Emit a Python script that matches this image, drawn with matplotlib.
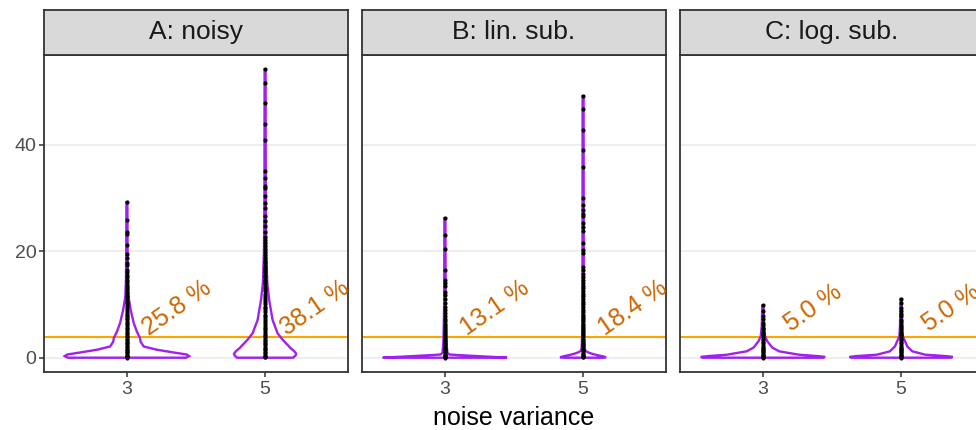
import numpy as np
import matplotlib
matplotlib.use("Agg")
import matplotlib.pyplot as plt

plt.rcParams['font.family'] = ['Liberation Sans', 'DejaVu Sans']

panels = ["A: noisy", "B: lin. sub.", "C: log. sub."]
variances = ["3", "5"]
threshold = 3.84
pct_labels = [["25.8 %", "38.1 %"], ["13.1 %", "18.4 %"], ["5.0 %", "5.0 %"]]

# test statistic values per panel / noise variance
a3_pts = [29.2, 25.9, 23.5, 23.3, 21.2, 19.5, 18.8, 17.8, 17.4, 16.5, 16.1, 15.6, 15.1, 14.6,
          14.2, 13.7, 13.3, 12.9, 12.4, 12.0, 11.6, 11.3, 10.9, 10.5, 10.2, 9.8, 9.5, 9.1, 8.8,
          8.4, 8.1, 7.9, 7.5, 7.2, 6.9, 6.5, 6.3, 5.9, 5.6, 5.4, 5.0, 4.7, 4.5, 4.1, 3.8, 3.6,
          3.3, 3.0, 2.8, 2.5, 2.2, 2.0, 1.7, 1.5, 1.2, 1.0, 0.8, 0.6, 0.4, 0.25, 0.1, 0.02]
a5_pts = [54.1, 51.5, 47.8, 43.9, 40.8, 35.0, 33.7, 32.3, 31.9, 30.3, 29.0, 28.1, 26.5, 25.6,
          24.7, 23.5, 22.6, 22.1, 21.5, 21.0, 20.4, 19.9, 19.3, 18.8, 18.2, 17.8, 17.3, 16.9,
          16.4, 16.0, 15.5, 15.1, 14.6, 14.2, 13.8, 13.3, 12.9, 12.5, 12.0, 11.6, 11.2, 10.8,
          10.4, 10.0, 9.6, 9.3, 8.9, 8.5, 8.1, 7.8, 7.4, 7.0, 6.7, 6.3, 6.0, 5.6, 5.3, 5.0, 4.6,
          4.3, 4.0, 3.7, 3.4, 3.1, 2.8, 2.5, 2.2, 1.9, 1.6, 1.4, 1.1, 0.9, 0.6, 0.4, 0.2, 0.05]
b3_pts = [26.2, 23.0, 20.4, 16.4, 14.6, 14.0, 13.4, 12.4, 11.8, 11.0, 10.3, 9.6, 9.0, 8.4, 7.8,
          7.3, 6.8, 6.4, 6.0, 5.6, 5.2, 4.8, 4.4, 4.0, 3.7, 3.4, 3.1, 2.8, 2.5, 2.2, 1.9, 1.7,
          1.4, 1.2, 1.0, 0.8, 0.6, 0.45, 0.3, 0.2, 0.1, 0.03]
b5_pts = [49.1, 46.6, 42.7, 38.9, 35.8, 30.0, 28.7, 27.8, 27.0, 26.5, 25.3, 24.6, 23.7, 21.5,
          20.3, 19.7, 17.1, 16.5, 15.8, 15.2, 14.6, 14.0, 13.5, 13.0, 12.5, 12.0, 11.5, 11.0,
          10.5, 10.0, 9.5, 9.0, 8.6, 8.1, 7.7, 7.2, 6.8, 6.4, 6.0, 5.6, 5.2, 4.8, 4.4, 4.0, 3.6,
          3.3, 2.9, 2.6, 2.3, 2.0, 1.7, 1.4, 1.2, 0.9, 0.7, 0.5, 0.3, 0.15, 0.05]
c3_pts = [9.8, 8.7, 7.8, 7.2, 6.6, 6.1, 5.6, 5.3, 4.9, 4.5, 4.2, 3.9, 3.6, 3.3, 3.0, 2.7, 2.4,
          2.1, 1.9, 1.6, 1.4, 1.2, 1.0, 0.8, 0.6, 0.45, 0.3, 0.2, 0.1, 0.03]
c5_pts = [11.0, 10.3, 9.4, 8.8, 8.2, 7.8, 7.1, 6.7, 6.2, 5.8, 5.3, 4.9, 4.5, 4.2, 3.9, 3.6, 3.3,
          3.0, 2.7, 2.4, 2.1, 1.9, 1.6, 1.4, 1.2, 1.0, 0.8, 0.6, 0.45, 0.3, 0.2, 0.1, 0.03]

# violin outlines: heights and relative density (1 = widest violin in the panel)
a3_vy = [0.0, 0.3, 0.6, 1.0, 1.5, 2.1, 3.0, 3.7, 4.9, 6.5, 9.0, 11.5, 15.0, 20.0, 29.2]
a3_vw = [0.95, 1.0, 0.96, 0.74, 0.48, 0.27, 0.22, 0.21, 0.16, 0.11, 0.06, 0.025, 0.015, 0.011, 0.008]
a5_vy = [0.0, 0.4, 0.75, 1.2, 1.8, 3.4, 4.6, 7.1, 10.9, 14.0, 20.0, 30.0, 54.1]
a5_vw = [0.45, 0.49, 0.50, 0.47, 0.41, 0.28, 0.20, 0.12, 0.065, 0.035, 0.018, 0.011, 0.008]
b3_vy = [0.0, 0.1, 0.2, 0.35, 0.5, 0.6, 0.8, 1.0, 1.5, 3.0, 6.0, 10.0, 26.2]
b3_vw = [1.0, 0.84, 0.68, 0.44, 0.2, 0.07, 0.05, 0.04, 0.035, 0.025, 0.018, 0.012, 0.008]
b5_vy = [0.0, 0.1, 0.3, 0.5, 0.75, 1.0, 1.3, 2.0, 4.0, 8.0, 20.0, 49.1]
b5_vw = [0.33, 0.37, 0.3, 0.22, 0.14, 0.08, 0.035, 0.022, 0.016, 0.012, 0.01, 0.008]
c3_vy = [0.0, 0.15, 0.3, 0.56, 1.2, 1.9, 3.1, 4.0, 6.0, 9.8]
c3_vw = [0.97, 1.0, 0.88, 0.58, 0.26, 0.15, 0.07, 0.035, 0.018, 0.01]
c5_vy = [0.0, 0.15, 0.3, 0.56, 1.2, 2.1, 3.3, 4.0, 6.0, 11.0]
c5_vw = [0.8, 0.83, 0.72, 0.39, 0.18, 0.10, 0.055, 0.028, 0.017, 0.01]

points = [[a3_pts, a5_pts], [b3_pts, b5_pts], [c3_pts, c5_pts]]
violins = [[(a3_vy, a3_vw), (a5_vy, a5_vw)],
           [(b3_vy, b3_vw), (b5_vy, b5_vw)],
           [(c3_vy, c3_vw), (c5_vy, c5_vw)]]

W, H = 976, 430
fig = plt.figure(figsize=(W / 100, H / 100), dpi=100)

all_vals = np.concatenate([np.array(p) for grp in points for p in grp])
span = all_vals.max() - all_vals.min()
ylim = (all_vals.min() - 0.05 * span, all_vals.max() + 0.05 * span)

border = '#333333'
panel_left = [44, 362, 680]
pw, top, bottom = 304, 55, 372

for i, name in enumerate(panels):
    ax = fig.add_axes([panel_left[i] / W, (H - bottom) / H, pw / W, (bottom - top) / H])
    ax.set_xlim(-0.6, 1.6)
    ax.set_ylim(*ylim)
    ax.set_yticks([0, 20, 40])
    ax.yaxis.grid(True, color='#EBEBEB', lw=1.2)
    ax.set_axisbelow(True)
    for s in ax.spines.values():
        s.set_color(border)
        s.set_linewidth(1.3)
    ax.axhline(threshold, color='#FFA500', lw=1.5, zorder=2)

    for j, v in enumerate(variances):
        vy, vw = violins[i][j]
        vy = np.array(vy)
        hw = np.array(vw) * 0.45
        xs = np.concatenate([j - hw, (j + hw)[::-1]])
        ys = np.concatenate([vy, vy[::-1]])
        ax.fill(xs, ys, facecolor='none', edgecolor='#A020F0', lw=1.7, zorder=3)
        pts = np.array(points[i][j])
        ax.plot(np.full(len(pts), j), pts, 'o', color='black', ms=3.0, mew=0, zorder=4)
        ax.text(j + 0.36, 9.4, pct_labels[i][j], color='#CD6600', fontsize=18,
                rotation=35, ha='center', va='center', clip_on=True, zorder=5)

    ax.set_xticks([0, 1])
    ax.set_xticklabels(variances)
    ax.tick_params(axis='both', colors=border, labelcolor='#4D4D4D', labelsize=14,
                   length=3.5, width=1.1)
    ax.tick_params(axis='x', pad=3)
    ax.tick_params(axis='y', pad=2)
    if i > 0:
        ax.tick_params(axis='y', left=False, labelleft=False)

    sax = fig.add_axes([panel_left[i] / W, (H - top) / H, pw / W, 45.5 / H])
    sax.set_facecolor('#D9D9D9')
    sax.set_xticks([])
    sax.set_yticks([])
    for s in sax.spines.values():
        s.set_color(border)
        s.set_linewidth(1.3)
    sax.text(0.5, 0.5, name, transform=sax.transAxes, ha='center', va='center',
             fontsize=19, color='#1A1A1A')

fig.text(513.5 / W, (H - 418) / H, "noise variance", ha='center', va='center', fontsize=18)

fig.savefig("out.png", dpi=100)
